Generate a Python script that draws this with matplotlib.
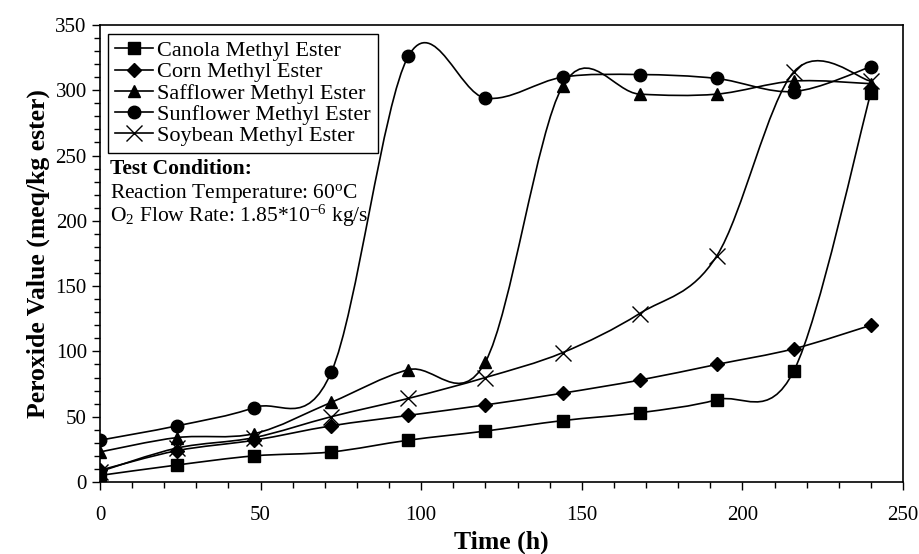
import numpy as np
import matplotlib
matplotlib.use('Agg')
import matplotlib.pyplot as plt
from matplotlib.path import Path
from matplotlib.patches import PathPatch
from matplotlib.ticker import MultipleLocator

plt.rcParams['font.family'] = ['Liberation Serif', 'DejaVu Serif']
plt.rcParams['mathtext.fontset'] = 'custom'
plt.rcParams['mathtext.rm'] = 'Liberation Serif'
plt.rcParams['mathtext.it'] = 'Liberation Serif:italic'
plt.rcParams['mathtext.bf'] = 'Liberation Serif:bold'

# data
waktu = [0, 24, 48, 72, 96, 120, 144, 168, 192, 216, 240]
canola = [5, 13, 20, 23, 32, 39, 47, 53, 63, 85, 298]
corn = [9, 24, 32, 43, 51, 59, 68, 78, 90, 102, 120]
safflower = [23, 34, 37, 61, 86, 92, 303, 297, 297, 307, 305]
sunflower = [32, 43, 57, 84, 326, 294, 310, 312, 309, 299, 318]
soybean = [8, 26, 34, 50, 64, 80, 99, 129, 173, 314, 307]

nama = ['Canola Methyl Ester', 'Corn Methyl Ester', 'Safflower Methyl Ester',
        'Sunflower Methyl Ester', 'Soybean Methyl Ester']
marker = ['s', 'D', '^', 'o', 'x']
seri = [canola, corn, safflower, sunflower, soybean]


def garis_halus(x, y):
    # kurva mulus lewat titik data (gaya "smoothed line")
    p = np.column_stack([x, y]).astype(float)
    n = len(p)
    verts = [p[0]]
    codes = [Path.MOVETO]
    for i in range(n - 1):
        p0 = p[i - 1] if i > 0 else p[i]
        p3 = p[i + 2] if i + 2 < n else p[i + 1]
        c1 = p[i] + (p[i + 1] - p0) / 6.0
        c2 = p[i + 1] - (p3 - p[i]) / 6.0
        verts += [c1, c2, p[i + 1]]
        codes += [Path.CURVE4] * 3
    return Path(verts, codes)


fig = plt.figure(figsize=(9.2, 5.54), dpi=100)
ax = fig.add_axes([0.1087, 0.130, 0.8728, 0.825])

for y, m, lab in zip(seri, marker, nama):
    ukuran = 11 if m == 'x' else (7.5 if m == 'D' else 9)
    ax.add_patch(PathPatch(garis_halus(waktu, y), fill=False, edgecolor='black', lw=1.2))
    ax.plot(waktu, y, linestyle='none', marker=m, color='black', markersize=ukuran,
            markeredgewidth=1.0)
    ax.plot([], [], color='black', lw=1.2, marker=m, markersize=ukuran,
            markeredgewidth=1.0, label=lab)

ax.set_xlim(0, 250)
ax.set_ylim(0, 350)
ax.xaxis.set_major_locator(MultipleLocator(50))
ax.xaxis.set_minor_locator(MultipleLocator(10))
ax.yaxis.set_major_locator(MultipleLocator(50))
ax.yaxis.set_minor_locator(MultipleLocator(10))
ax.tick_params(which='both', direction='out', labelsize=15, width=1)
ax.tick_params(which='major', length=6)
ax.tick_params(which='minor', length=4)
ax.tick_params(axis='x', pad=11)
for s in ax.spines.values():
    s.set_linewidth(1.2)

ax.set_xlabel('Time (h)', fontsize=18.5, fontweight='bold', labelpad=4)
ax.set_ylabel('Peroxide Value (meq/kg ester)', fontsize=18.5, fontweight='bold', labelpad=4)

leg = ax.legend(loc='upper left', bbox_to_anchor=(0.005, 0.99), fontsize=16,
                handlelength=1.7, handletextpad=0.2, labelspacing=0.03,
                borderpad=0.3, borderaxespad=0.2, fancybox=False, framealpha=1)
leg.get_frame().set_edgecolor('black')
leg.get_frame().set_linewidth(1.0)

ax.text(0.012, 0.673, 'Test Condition:', transform=ax.transAxes, fontsize=15.5,
        fontweight='bold', va='baseline')
ax.text(0.012, 0.622, r'Reaction Temperature: 60$^{\rm o}$C', transform=ax.transAxes,
        fontsize=15.5, va='baseline')
ax.text(0.012, 0.569, r'O$_2$ Flow Rate: 1.85*10$^{-6}$ kg/s', transform=ax.transAxes,
        fontsize=15.5, va='baseline')

fig.savefig('out.png', dpi=100)
